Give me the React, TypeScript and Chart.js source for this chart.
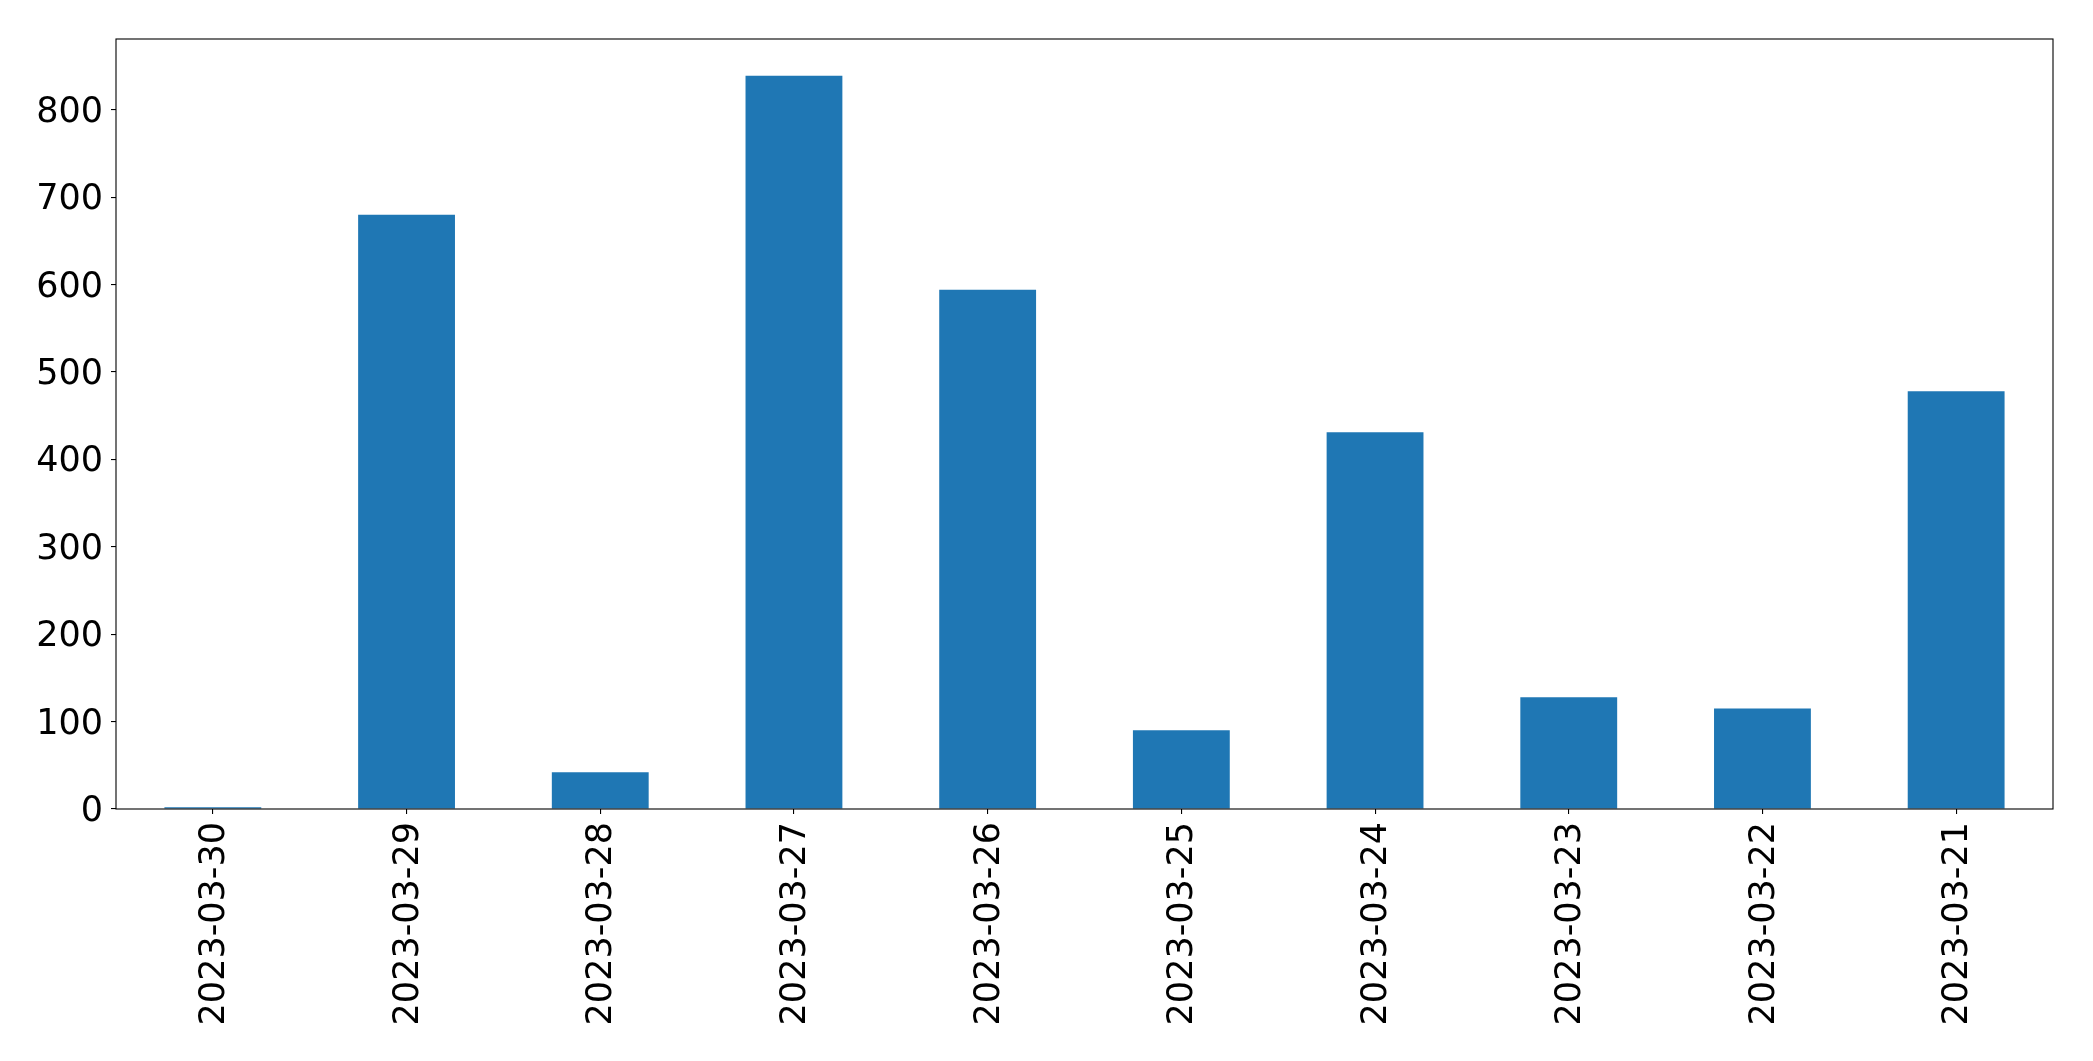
import React, { useEffect, useRef } from 'react';
import { Chart, registerables } from 'chart.js';

Chart.register(...registerables);

const categories = [
  '2023-03-30', '2023-03-29', '2023-03-28', '2023-03-27', '2023-03-26',
  '2023-03-25', '2023-03-24', '2023-03-23', '2023-03-22', '2023-03-21',
];
const values = [2, 680, 42, 839, 594, 90, 431, 128, 115, 478];
const yTicks = [0, 100, 200, 300, 400, 500, 600, 700, 800];
const yMax = 881;

const framePlugin = {
  id: 'frame',
  afterDraw(chart: any) {
    const { ctx, chartArea } = chart;
    ctx.save();
    ctx.strokeStyle = '#000';
    ctx.lineWidth = 1.1;
    ctx.strokeRect(chartArea.left, chartArea.top, chartArea.right - chartArea.left, chartArea.bottom - chartArea.top);
    ctx.restore();
  },
};

export default function App() {
  const ref = useRef<HTMLCanvasElement>(null);
  useEffect(() => {
    document.body.style.margin = '0';
    const font = { family: 'DejaVu Sans', size: 35 };
    const chart = new Chart(ref.current as HTMLCanvasElement, {
      type: 'bar',
      data: {
        labels: categories,
        datasets: [
          {
            data: values,
            backgroundColor: '#1f77b4',
            barPercentage: 0.5,
            categoryPercentage: 1.0,
          },
        ],
      },
      options: {
        animation: false,
        responsive: false,
        maintainAspectRatio: false,
        layout: { padding: { top: 39, right: 40, left: 0, bottom: 0 } },
        plugins: { legend: { display: false }, tooltip: { enabled: false } },
        scales: {
          x: {
            offset: true,
            grid: {
              display: true,
              drawOnChartArea: false,
              drawTicks: true,
              tickLength: 5,
              color: '#000',
              lineWidth: 1.1,
              offset: false,
            },
            border: { display: false },
            ticks: {
              minRotation: 90,
              maxRotation: 90,
              autoSkip: false,
              color: '#000',
              font,
              padding: 8,
              labelOffset: 2,
            },
            afterFit: (s: any) => {
              s.height = 252;
            },
          },
          y: {
            min: 0,
            max: yMax,
            grid: {
              display: true,
              drawOnChartArea: false,
              drawTicks: true,
              tickLength: 5,
              color: '#000',
              lineWidth: 1.1,
            },
            border: { display: false },
            ticks: { color: '#000', font, padding: 8, labelOffset: 3 },
            afterBuildTicks: (s: any) => {
              s.ticks = yTicks.map((v) => ({ value: v }));
            },
            afterFit: (s: any) => {
              s.width = 116;
            },
          },
        },
      },
      plugins: [framePlugin],
    });
    return () => chart.destroy();
  }, []);
  return <canvas ref={ref} width={2093} height={1061} style={{ display: 'block' }} />;
}
